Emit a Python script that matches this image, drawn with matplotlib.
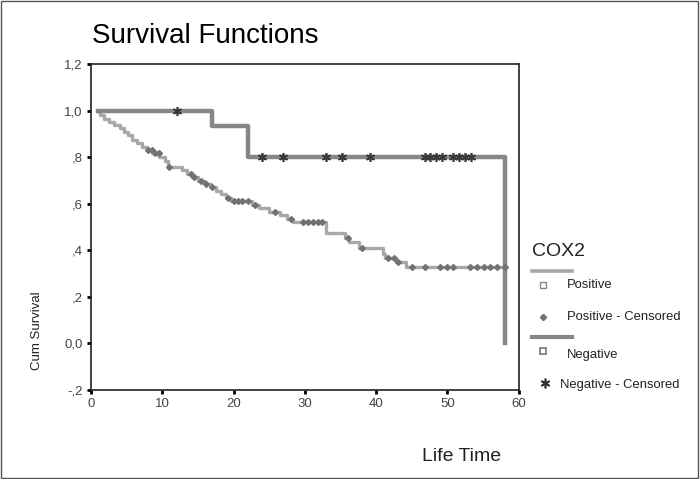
import numpy as np
import matplotlib
matplotlib.use("Agg")
import matplotlib.pyplot as plt
from matplotlib.lines import Line2D
from matplotlib.patches import Rectangle

plt.rcParams['font.family'] = ['Liberation Sans', 'DejaVu Sans']

# ---- data ----
pos_times = [1.0, 1.2, 1.8, 2.5, 3.2, 4.0, 4.6, 5.2, 5.8, 6.5, 7.2, 7.8, 8.6, 9.6,
             10.4, 10.8, 12.8, 13.5, 14.2, 15.0, 16.0, 16.8, 17.5, 18.2, 19.0, 19.6,
             22.6, 23.5, 25.0, 26.5, 27.5, 28.4, 33.0, 35.6, 36.2, 37.6, 40.9, 41.2,
             42.8, 44.2, 58.1]
pos_surv = [1.0, 0.98, 0.965, 0.95, 0.94, 0.925, 0.91, 0.895, 0.875, 0.86, 0.845, 0.83,
            0.82, 0.80, 0.785, 0.76, 0.745, 0.73, 0.715, 0.70, 0.685, 0.67, 0.655, 0.64,
            0.625, 0.61, 0.595, 0.58, 0.565, 0.55, 0.535, 0.52, 0.475, 0.455, 0.435,
            0.41, 0.385, 0.365, 0.35, 0.33, 0.33]
pos_censored = [8.0, 8.5, 9.0, 9.5, 11.0, 14.0, 14.5, 15.5, 16.2, 17.0, 19.2, 20.0, 20.6,
                21.2, 22.0, 23.0, 25.8, 28.0, 29.8, 30.5, 31.2, 31.9, 32.4, 36.0, 38.0,
                41.6, 42.5, 43.0, 45.1, 46.9, 49.0, 50.0, 50.8, 53.2, 54.2, 55.1, 56.0,
                57.0, 58.1]

neg_times = [1.0, 17.0, 22.0, 58.1, 58.1]
neg_surv = [1.0, 0.933, 0.80, 0.80, 0.0]
neg_censored = [12.0, 24.0, 27.0, 33.0, 35.2, 39.2, 46.8, 47.6, 48.4, 49.3, 50.8, 51.6,
                52.4, 53.3]

y_ticks = [-0.2, 0.0, 0.2, 0.4, 0.6, 0.8, 1.0, 1.2]
y_tick_labels = ['-,2', '0,0', ',2', ',4', ',6', ',8', '1,0', '1,2']
x_ticks = [0, 10, 20, 30, 40, 50, 60]

legend_title = 'COX2'
labels = ['Positive', 'Positive - Censored', 'Negative', 'Negative - Censored']


def step_value(times, surv, t):
    idx = np.searchsorted(times, t, side='right') - 1
    idx = np.clip(idx, 0, len(surv) - 1)
    return np.asarray(surv)[idx]


pos_col = '#a8a8a8'
neg_col = '#878787'
cen_col = '#727272'

fig = plt.figure(figsize=(7.0, 4.79), dpi=100)
ax = fig.add_axes([0.130, 0.186, 0.611, 0.680])

ax.step(pos_times, pos_surv, where='post', color=pos_col, lw=2.4, zorder=2)
ax.step(neg_times, neg_surv, where='post', color=neg_col, lw=3.2, zorder=2)

ax.plot(pos_censored, step_value(pos_times, pos_surv, np.array(pos_censored)),
        ls='none', marker='D', ms=3.0, color=cen_col, mec=cen_col, zorder=3)
ax.plot(neg_censored, step_value(neg_times[:-1], neg_surv[:-1], np.array(neg_censored)),
        ls='none', marker=(6, 2, 0), ms=6.5, color='#3a3a3a', mew=1.2, zorder=3)

ax.set_xlim(0, 60)
ax.set_ylim(-0.2, 1.2)
ax.set_xticks(x_ticks)
ax.set_xticklabels([str(v) for v in x_ticks])
ax.set_yticks(y_ticks)
ax.set_yticklabels(y_tick_labels)
ax.tick_params(direction='out', length=3, width=2, colors='black', labelsize=9.5,
               labelcolor='#444444', pad=3)
for s in ax.spines.values():
    s.set_linewidth(1.2)
    s.set_color('#222222')

fig.text(0.131, 0.925, 'Survival Functions', fontsize=20, color='black', va='center', ha='left')
fig.text(0.053, 0.309, 'Cum Survival', rotation=90, fontsize=9.5, color='#222222',
         va='center', ha='center')
fig.text(0.660, 0.047, 'Life Time', fontsize=14, color='#222222', va='center', ha='center')

# legend (figure coordinates from pixels)
W, H = 700.0, 479.0
def fx(x):
    return x / W
def fy(y):
    return 1 - y / H

fig.text(fx(532), fy(252), legend_title, fontsize=14, va='center', ha='left', color='#222222')
fig.add_artist(Line2D([fx(532), fx(572)], [fy(271), fy(271)], color=pos_col, lw=2.6))
fig.add_artist(Line2D([fx(543)], [fy(285)], ls='none', marker='s', ms=4, mfc='white',
                      mec='#888888', mew=1.0))
fig.text(fx(567), fy(285), labels[0], fontsize=9.4, va='center', ha='left', color='#222222')
fig.add_artist(Line2D([fx(543)], [fy(317)], ls='none', marker='D', ms=3.2, color=cen_col))
fig.text(fx(567), fy(317), labels[1], fontsize=9.4, va='center', ha='left', color='#222222')
fig.add_artist(Line2D([fx(532), fx(572)], [fy(337), fy(337)], color=neg_col, lw=3.0))
fig.add_artist(Line2D([fx(543)], [fy(351)], ls='none', marker='s', ms=5, mfc='white',
                      mec='#888888', mew=1.4))
fig.text(fx(567), fy(355), labels[2], fontsize=9.4, va='center', ha='left', color='#222222')
fig.add_artist(Line2D([fx(545)], [fy(383)], ls='none', marker=(6, 2, 0), ms=7,
                      color='#333333', mew=1.2))
fig.text(fx(560), fy(385), labels[3], fontsize=9.4, va='center', ha='left', color='#222222')

fig.add_artist(Rectangle((0.002, 0.003), 0.995, 0.994, transform=fig.transFigure,
                         fill=False, ec='#555555', lw=1.0))

fig.savefig('out.png', dpi=100)
